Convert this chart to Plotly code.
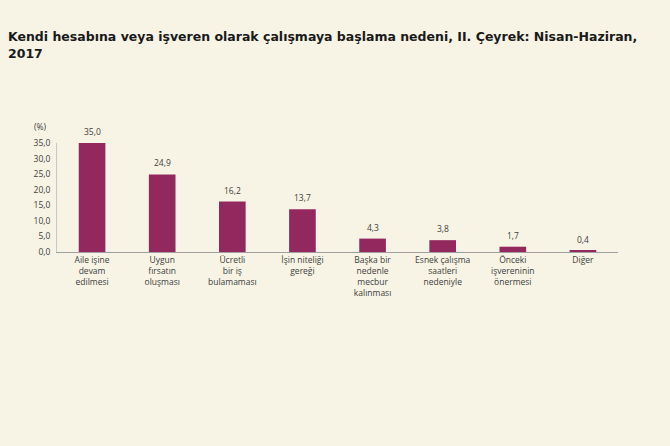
import plotly.graph_objs as go

nedenler = ['Aile işine<br>devam<br>edilmesi', 'Uygun<br>fırsatın<br>oluşması',
            'Ücretli<br>bir iş<br>bulamaması', 'İşin niteliği<br>gereği',
            'Başka bir<br>nedenle<br>mecbur<br>kalınması', 'Esnek çalışma<br>saatleri<br>nedeniyle',
            'Önceki<br>işvereninin<br>önermesi', 'Diğer']
oranlar = [35.0, 24.9, 16.2, 13.7, 4.3, 3.8, 1.7, 0.4]
y_ticks = [0, 5, 10, 15, 20, 25, 30, 35]

yazi = dict(family='Open Sans', size=8.5, color='#404040')

fig = go.Figure()
fig.add_trace(go.Bar(
    x=nedenler, y=oranlar, width=0.38,
    marker=dict(color='#93285f', line=dict(width=0)),
))
# değer etiketleri
for ad, v in zip(nedenler, oranlar):
    fig.add_annotation(x=ad, y=v, text=f'{v:.1f}'.replace('.', ','), showarrow=False,
                       yanchor='bottom', yshift=4, font=yazi)

fig.update_layout(
    width=670, height=446,
    paper_bgcolor='#f7f4e5', plot_bgcolor='#f7f4e5',
    margin=dict(l=57, r=52, t=143, b=194),
    separators=',.',
    showlegend=False,
    title=dict(text='Kendi hesabına veya işveren olarak çalışmaya başlama nedeni, II. Çeyrek: Nisan-Haziran,<br>2017',
               x=0.012, xanchor='left', y=0.907, yanchor='top',
               font=dict(family='DejaVu Sans', size=12.5, color='#1a1a1a', weight='bold')),
)
fig.update_xaxes(showline=True, linecolor='#a0a0a0', linewidth=1, ticks='', tickangle=0,
                 showgrid=False, tickfont=yazi)
fig.update_yaxes(range=[0, 35], tickvals=y_ticks, tickformat='.1f', showgrid=False,
                 showline=True, linecolor='#c8c8c8', linewidth=1, zeroline=False, ticks='',
                 ticklabelstandoff=4, tickfont=yazi)
fig.add_annotation(text='(%)', xref='paper', yref='paper', x=-0.045, y=1.147, showarrow=False,
                   yanchor='middle', font=yazi)

fig.write_html('out.html', config={'displayModeBar': False},
               post_script="document.body.style.margin='0';document.body.style.background='#f7f4e5';")
